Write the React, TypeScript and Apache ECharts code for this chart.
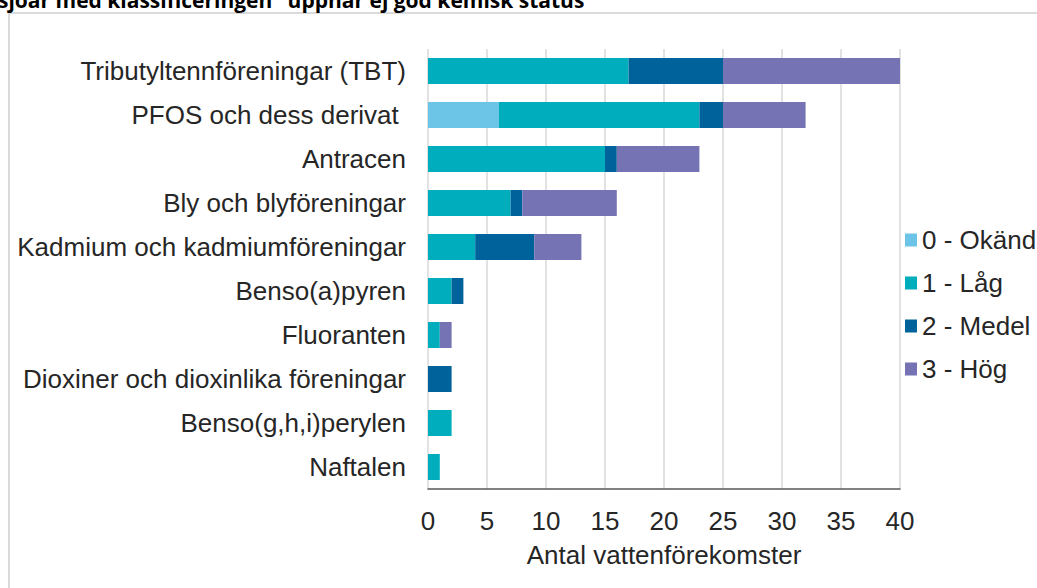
import React, { useEffect, useRef } from "react";
import * as echarts from "echarts";

const categories = [
  "Tributyltennföreningar (TBT)",
  "PFOS och dess derivat ",
  "Antracen",
  "Bly och blyföreningar",
  "Kadmium och kadmiumföreningar",
  "Benso(a)pyren",
  "Fluoranten",
  "Dioxiner och dioxinlika föreningar",
  "Benso(g,h,i)perylen",
  "Naftalen",
];
const seriesNames = ["0 - Okänd", "1 - Låg", "2 - Medel", "3 - Hög"];
const okand = [0, 6, 0, 0, 0, 0, 0, 0, 0, 0];
const lag = [17, 17, 15, 7, 4, 2, 1, 0, 2, 1];
const medel = [8, 2, 1, 1, 5, 1, 0, 2, 0, 0];
const hog = [15, 7, 7, 8, 4, 0, 1, 0, 0, 0];
const colors = ["#6CC4E7", "#00ADBD", "#00629B", "#7673B4"];
const titleText = 'sjöar med klassificeringen "uppnår ej god kemisk status"';
const axisName = "Antal vattenförekomster";

export default function App() {
  const ref = useRef<HTMLDivElement>(null);
  useEffect(() => {
    if (!ref.current) return;
    const chart = echarts.init(ref.current, null, { renderer: "svg" });
    const values = [okand, lag, medel, hog];
    const font = "'Liberation Sans', Arial, sans-serif";
    const fs = 26;
    chart.setOption({
      animation: false,
      backgroundColor: "#ffffff",
      textStyle: { fontFamily: font },
      graphic: [
        {
          type: "rect",
          shape: { x: 9, y: 13, width: 1100, height: 700 },
          style: { fill: "none", stroke: "#DADADA", lineWidth: 2 },
          silent: true,
        },
        {
          type: "text",
          x: -2,
          y: 10.5,
          style: {
            text: titleText,
            fontFamily: "'Open Sans', sans-serif",
            fontWeight: "bold",
            fontSize: 21,
            fill: "#000000",
            verticalAlign: "bottom",
            align: "left",
          },
          silent: true,
        },
      ],
      legend: {
        orient: "vertical",
        left: 900,
        top: 222,
        itemWidth: 12,
        itemHeight: 13,
        itemGap: 17,
        icon: "rect",
        textStyle: { fontSize: fs, color: "#262626", lineHeight: 26, fontFamily: font },
        data: seriesNames,
      },
      grid: { left: 428, right: 137, top: 49, bottom: 99, containLabel: false },
      xAxis: {
        type: "value",
        min: 0,
        max: 40,
        interval: 5,
        name: axisName,
        nameLocation: "middle",
        nameGap: 53,
        nameTextStyle: { fontSize: fs, color: "#262626", fontFamily: font },
        axisLine: { show: true, lineStyle: { color: "#595959", width: 1.5 } },
        axisTick: { show: false },
        axisLabel: { fontSize: fs, color: "#262626", margin: 19, fontFamily: font },
        splitLine: { show: true, lineStyle: { color: "#D9D9D9", width: 1.5 } },
      },
      yAxis: {
        type: "category",
        inverse: true,
        data: categories,
        axisLine: { show: false },
        axisTick: { show: false },
        axisLabel: { fontSize: fs, color: "#262626", margin: 22, fontFamily: font },
      },
      series: seriesNames.map((name, i) => ({
        name,
        type: "bar",
        stack: "total",
        barWidth: 26,
        itemStyle: { color: colors[i] },
        data: values[i],
      })),
    });
    return () => chart.dispose();
  }, []);
  return (
    <div
      ref={ref}
      style={{ position: "fixed", left: 0, top: 0, width: 1037, height: 588 }}
    />
  );
}
